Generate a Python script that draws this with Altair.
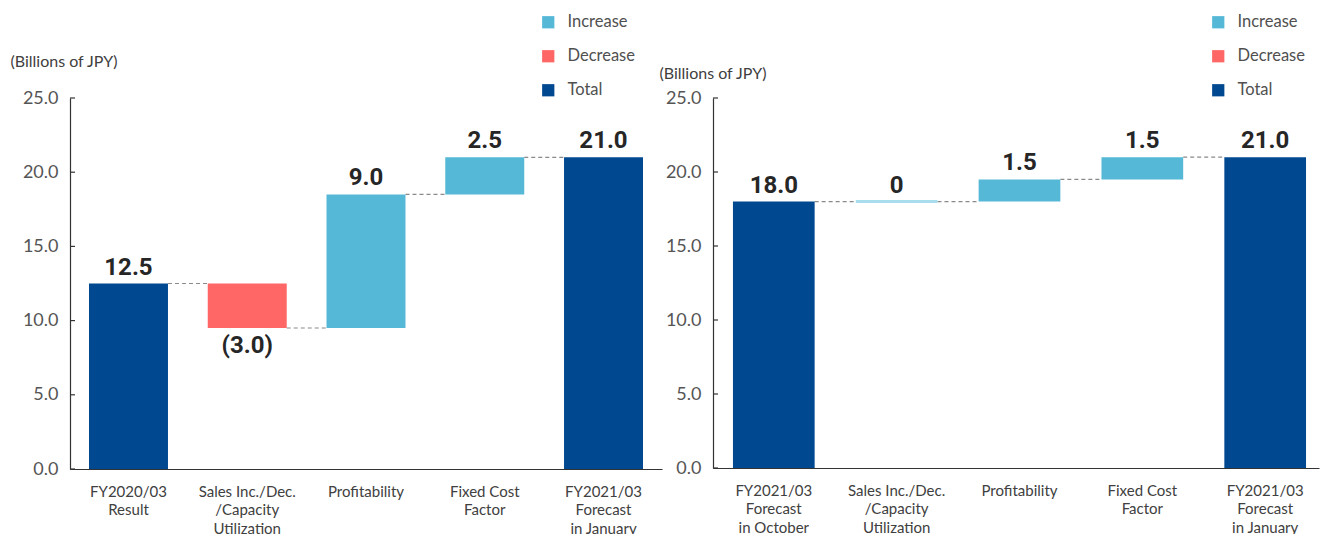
import altair as alt
import pandas as pd

# Legend categories and their colours
KINDS = ["Increase", "Decrease", "Total"]
KIND_COLORS = ["#55b8d6", "#ff6666", "#004890"]
ZERO_COLOR = "#a9dcec"

# Left panel: FY2020/03 result -> FY2021/03 January forecast
left_categories = [
    "FY2020/03|Result",
    "Sales Inc./Dec.|/Capacity|Utilization",
    "Profitability",
    "Fixed Cost|Factor",
    "FY2021/03|Forecast|in January",
]
left_values = [12.5, -3.0, 9.0, 2.5, 21.0]
left_kinds = ["Total", "Decrease", "Increase", "Increase", "Total"]

# Right panel: October forecast -> January forecast
right_categories = [
    "FY2021/03|Forecast|in October",
    "Sales Inc./Dec.|/Capacity|Utilization",
    "Profitability",
    "Fixed Cost|Factor",
    "FY2021/03|Forecast|in January",
]
right_values = [18.0, 0.0, 1.5, 1.5, 21.0]
right_kinds = ["Total", "Increase", "Increase", "Increase", "Total"]

y_ticks = [0, 5, 10, 15, 20, 25]
unit_title = "(Billions of JPY)"

AXIS_FONT = "Lato"
VALUE_FONT = "Roboto"


def waterfall_table(categories, values, kinds):
    rows = []
    level = 0.0
    for c, v, k in zip(categories, values, kinds):
        if k == "Total":
            start, end = 0.0, v
        else:
            start, end = level, level + v
        level = end
        if v == 0:
            label = "0"
        elif v < 0:
            label = f"({abs(v):.1f})"
        else:
            label = f"{v:.1f}"
        rows.append(
            dict(cat=c, kind=k, start=start, end=end,
                 top=max(start, end), bottom=min(start, end),
                 label=label, neg=bool(v < 0), zero=bool(v == 0))
        )
    bars = pd.DataFrame(rows)
    links = pd.DataFrame({
        "cat": categories[:-1],
        "cat2": categories[1:],
        "level": [r["end"] for r in rows[:-1]],
    })
    return bars, links


def panel(categories, values, kinds, width, height, step_pad_outer, align,
          title_x, title_y, legend_x, legend_y):
    bars, links = waterfall_table(categories, values, kinds)

    x_scale = alt.Scale(domain=categories, paddingInner=0.335,
                        paddingOuter=step_pad_outer, align=align)
    y_scale = alt.Scale(domain=[0, 25], nice=False, zero=True)

    x_axis = alt.Axis(
        title=None, labelAngle=0, ticks=False,
        labelExpr="split(datum.label, '|')",
        labelFont=AXIS_FONT, labelFontSize=15, labelColor="#404040",
        labelLineHeight=18.5, labelPadding=15, labelBaseline="top",
        labelAlign="center",
        domainColor="#333333", domainWidth=1.2,
    )
    y_axis = alt.Axis(
        title=unit_title, titleAngle=0, titleAlign="left",
        titleBaseline="middle", titleX=title_x, titleY=title_y,
        titleFont=AXIS_FONT, titleFontSize=16, titleFontWeight="normal",
        titleColor="#404040",
        values=y_ticks, format=".1f", ticks=False, grid=False,
        labelFont=AXIS_FONT, labelFontSize=18, labelColor="#555555",
        labelPadding=12, domainColor="#333333", domainWidth=1.2,
    )

    X = alt.X("cat:N", scale=x_scale, axis=x_axis, sort=categories)

    base = alt.Chart(bars)

    # dashed links between consecutive steps, drawn from bar edge to bar edge
    connectors = alt.Chart(links).mark_rule(
        color="#8a8a8a", strokeDash=[4, 3], strokeWidth=1.2
    ).encode(
        x=alt.X("cat:N", scale=x_scale, sort=categories, bandPosition=1),
        x2=alt.X2("cat2:N", bandPosition=0),
        y=alt.Y("level:Q", scale=y_scale),
    )

    steps = base.mark_bar().encode(
        x=X,
        y=alt.Y("start:Q", scale=y_scale, axis=y_axis),
        y2="end:Q",
        color=alt.Color(
            "kind:N",
            scale=alt.Scale(domain=KINDS, range=KIND_COLORS),
            legend=alt.Legend(
                title=None, orient="none", legendX=legend_x, legendY=legend_y,
                symbolType="square", symbolSize=150, symbolStrokeWidth=0,
                labelFont=AXIS_FONT, labelFontSize=16.5, labelColor="#505050",
                labelOffset=11, rowPadding=17,
            ),
        ),
    )

    # a step of zero is shown as a thin flat line
    flat = base.transform_filter("datum.zero").mark_rule(
        color=ZERO_COLOR, strokeWidth=3
    ).encode(
        x=alt.X("cat:N", scale=x_scale, sort=categories, bandPosition=0),
        x2=alt.X2("cat:N", bandPosition=1),
        y=alt.Y("start:Q", scale=y_scale),
    )

    text_style = dict(font=VALUE_FONT, fontSize=24, fontWeight="bold",
                      color="#262626", align="center")
    above = base.transform_filter("!datum.neg").mark_text(
        baseline="bottom", dy=-4, **text_style
    ).encode(x=X, y=alt.Y("top:Q", scale=y_scale), text="label:N")
    below = base.transform_filter("datum.neg").mark_text(
        baseline="top", dy=6, **text_style
    ).encode(x=X, y=alt.Y("bottom:Q", scale=y_scale), text="label:N")

    # inward tick marks on the value axis
    ticks = alt.Chart(pd.DataFrame({"v": y_ticks})).mark_rule(
        color="#333333", strokeWidth=1.2
    ).encode(
        y=alt.Y("v:Q", scale=y_scale),
        x=alt.value(0), x2=alt.value(5),
    )

    return alt.layer(connectors, steps, flat, above, below, ticks).properties(
        width=width, height=height
    )


left = panel(left_categories, left_values, left_kinds, 592, 371,
             0.16, 0.5, -60, -37, 470, -84)
right = panel(right_categories, right_values, right_kinds, 606, 370,
              0.134, 0.606, -54, -25, 497, -84)

chart = alt.hconcat(left, right, spacing=51, bounds="flush").resolve_scale(
    color="independent", x="independent", y="independent"
).resolve_legend(color="independent").configure_view(
    stroke=None
).properties(
    padding={"left": 10, "top": 14, "right": 5, "bottom": 0},
    background="white",
)

chart.save("out.html", embed_options={"renderer": "svg", "actions": False})
